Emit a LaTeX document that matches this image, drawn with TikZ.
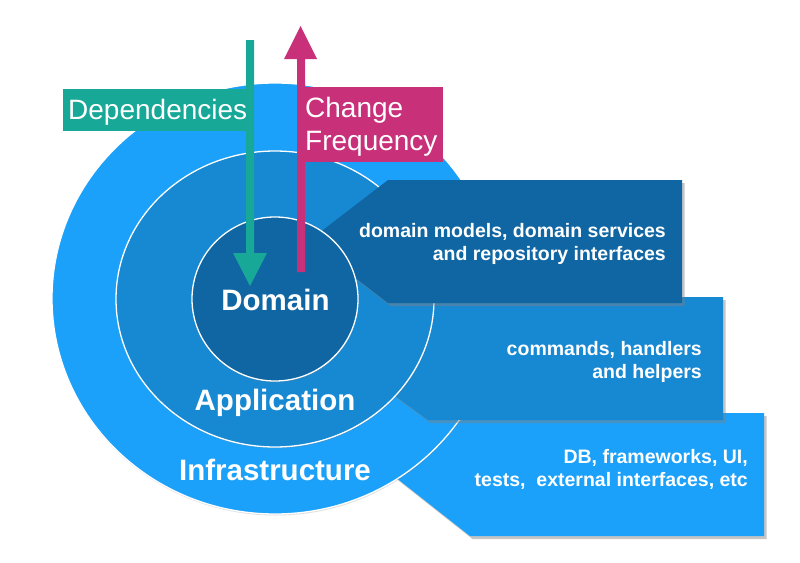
\documentclass[tikz,border=0pt]{standalone}
\usepackage{fontspec}
\setmainfont{Liberation Sans}
\usetikzlibrary{shapes.geometric,shadows}
\definecolor{infrablue}{RGB}{27,161,250}
\definecolor{appblue}{RGB}{23,136,210}
\definecolor{domblue}{RGB}{16,102,162}
\definecolor{depteal}{RGB}{23,168,152}
\definecolor{chgpink}{RGB}{200,48,122}
\tikzset{
  ring/.style={ellipse, inner sep=0pt, draw=white, line width=1.3pt,
    drop shadow={shadow xshift=0.5pt, shadow yshift=-1.5pt, opacity=0.25}},
  layerbox/.style={drop shadow={shadow xshift=2.5pt, shadow yshift=-3pt, opacity=0.45}},
  ringlabel/.style={text=white, font=\bfseries\fontsize{29.5}{34}\selectfont, inner sep=0pt},
  boxtext/.style={text=white, font=\bfseries\fontsize{19.5}{23}\selectfont, align=right, inner sep=0pt, anchor=east},
  flaglabel/.style={text=white, font=\fontsize{28}{33}\selectfont, inner sep=0pt, anchor=west, align=left}
}
\begin{document}
\begin{tikzpicture}[x=1pt,y=-1pt]
\useasboundingbox (0,0) rectangle (800,562);
\fill[white] (0,0) rectangle (800,562);
% infrastructure box
\path[layerbox, fill=infrablue] (470,413) -- (764,413) -- (764,536) -- (470,536) -- (392,474.5) -- cycle;
% outer ring
\node[ring, fill=infrablue, minimum width=446pt, minimum height=431pt] (infra) at (275,298.5) {};
% application box
\path[layerbox, fill=appblue] (428,297) -- (723,297) -- (723,420) -- (428,420) -- (344,358.5) -- cycle;
% middle ring
\node[ring, fill=appblue, minimum width=318pt, minimum height=296pt] (app) at (275,299) {};
% domain box
\path[layerbox, fill=domblue] (388,180) -- (682,180) -- (682,303) -- (388,303) -- (308,241.5) -- cycle;
% inner ring
\node[ring, fill=domblue, minimum width=166pt, minimum height=164pt] (dom) at (275,299) {};
% ring labels
\node[ringlabel] (domlbl) at (275.5,300) {Domain};
\node[ringlabel] (applbl) at (275,403) {Application};
\node[ringlabel] (infralbl) at (275,470) {Infrastructure};
% dependencies arrow and flag
\fill[depteal] (63,89) rectangle (254,131);
\fill[depteal] (246,40) -- (254,40) -- (254,253) -- (267,253) -- (250,286) -- (233,253) -- (246,253) -- cycle;
\node[flaglabel] (deplbl) at (68,112) {Dependencies};
% change frequency arrow and flag
\fill[chgpink] (297,87) rectangle (443,162);
\fill[chgpink] (297,272) -- (297,59) -- (284,59) -- (300.5,26) -- (317,59) -- (305,59) -- (305,272) -- cycle;
\node[flaglabel] (chglbl) at (305,126.5) {Change\\Frequency};
% box texts
\node[boxtext] (domtxt) at (666,243.5) {domain models, domain services\\and repository interfaces};
\node[boxtext] (apptxt) at (702,361.5) {commands, handlers\\and helpers};
\node[boxtext] (infratxt) at (748,469) {DB, frameworks, UI,\\tests,\ \ external interfaces, etc};
\end{tikzpicture}
\end{document}
